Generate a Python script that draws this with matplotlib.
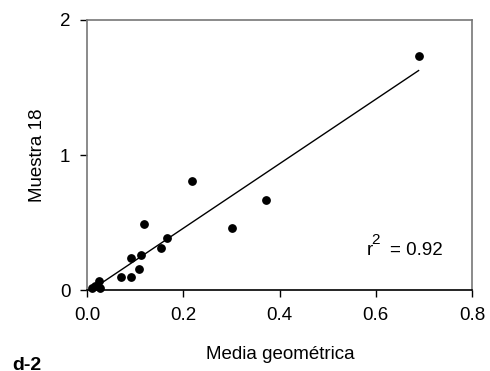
import numpy as np
import matplotlib
matplotlib.use("Agg")
import matplotlib.pyplot as plt
from matplotlib.transforms import offset_copy

plt.rcParams['font.family'] = ['Liberation Sans', 'DejaVu Sans']

# geometric mean vs sample 18
media_geom = [0.010, 0.017, 0.025, 0.028, 0.070, 0.091, 0.091, 0.109, 0.112,
              0.119, 0.154, 0.166, 0.218, 0.302, 0.371, 0.689]
muestra_18 = [0.012, 0.032, 0.069, 0.012, 0.094, 0.094, 0.237, 0.156, 0.257,
              0.491, 0.313, 0.383, 0.807, 0.461, 0.667, 1.733]
r2_value = "0.92"

x = np.array(media_geom)
y = np.array(muestra_18)
slope, intercept = np.polyfit(x, y, 1)

fig = plt.figure(figsize=(4.9, 3.71), dpi=100)
ax = fig.add_axes([0.1776, 0.2183, 0.7857, 0.7278])

xs = np.array([x.min(), x.max()])
ax.plot(xs, slope * xs + intercept, color='black', lw=1.0)
ax.scatter(x, y, s=28, color='black', zorder=3, clip_on=False)

ax.set_xlim(0, 0.8)
ax.set_ylim(0, 2)
ax.set_xticks([0.0, 0.2, 0.4, 0.6, 0.8])
ax.set_xticklabels(['0.0', '0.2', '0.4', '0.6', '0.8'])
ax.set_yticks([0, 1, 2])
ax.tick_params(labelsize=13.5, length=5, width=1, direction='out', pad=7)

for side in ['left', 'top', 'right']:
    ax.spines[side].set_color('#777777')
    ax.spines[side].set_linewidth(1.2)
ax.spines['bottom'].set_color('black')
ax.spines['bottom'].set_linewidth(1.2)

ax.set_xlabel('Media geométrica', fontsize=13.5)
ax.set_ylabel('Muestra 18', fontsize=13.5)
ax.xaxis.set_label_coords(0.501, -0.207)
ax.yaxis.set_label_coords(-0.106, 0.5)

# r^2 annotation with a large superscript
tx, ty = 0.582, 0.26
ax.text(tx, ty, 'r', fontsize=13.5, va='baseline')
ax.text(tx, ty, '2', fontsize=11, va='baseline',
        transform=offset_copy(ax.transData, fig=fig, x=4, y=11, units='dots'))
ax.text(tx, ty, '= ' + r2_value, fontsize=13.5, va='baseline',
        transform=offset_copy(ax.transData, fig=fig, x=23, y=0, units='dots'))

fig.text(12 / 490, 1.5 / 371, 'd-2', fontsize=14, fontweight='bold', va='baseline')

fig.savefig('out.png', dpi=100)
